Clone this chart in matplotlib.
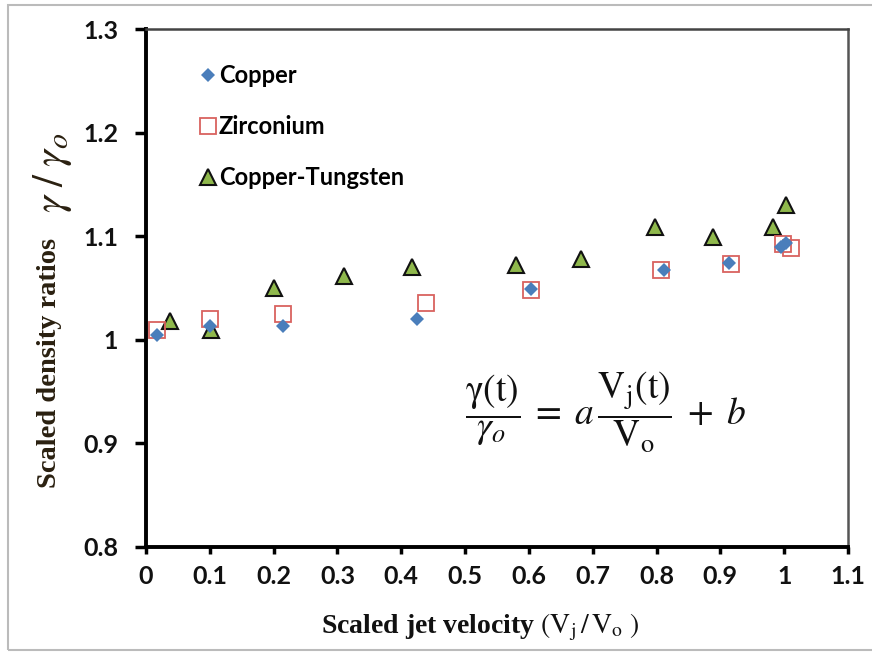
import matplotlib
matplotlib.use("Agg")
import matplotlib.pyplot as plt
from matplotlib.font_manager import FontProperties
from matplotlib.patches import Rectangle

# Scaled jet velocity (Vj/Vo) and scaled density ratio for each material
copper_x = [0.017, 0.100, 0.215, 0.424, 0.603, 0.811, 0.914, 0.995, 1.003]
copper_y = [1.005, 1.013, 1.013, 1.020, 1.049, 1.067, 1.074, 1.090, 1.093]

zirconium_x = [0.018, 0.101, 0.214, 0.438, 0.603, 0.807, 0.917, 0.998, 1.010]
zirconium_y = [1.009, 1.020, 1.025, 1.036, 1.048, 1.067, 1.073, 1.092, 1.089]

cu_w_x = [0.038, 0.102, 0.201, 0.310, 0.417, 0.580, 0.682, 0.798, 0.889, 0.982, 1.003]
cu_w_y = [1.018, 1.009, 1.050, 1.062, 1.070, 1.072, 1.078, 1.109, 1.099, 1.109, 1.130]

x_ticks = [0, 0.1, 0.2, 0.3, 0.4, 0.5, 0.6, 0.7, 0.8, 0.9, 1.0, 1.1]
x_tick_labels = ["0", "0.1", "0.2", "0.3", "0.4", "0.5", "0.6", "0.7", "0.8", "0.9", "1", "1.1"]
y_ticks = [0.8, 0.9, 1.0, 1.1, 1.2, 1.3]
y_tick_labels = ["0.8", "0.9", "1", "1.1", "1.2", "1.3"]

plt.rcParams["mathtext.fontset"] = "stix"

W, H = 872, 653
fig = plt.figure(figsize=(W / 100, H / 100), dpi=100)
ax = fig.add_axes([146 / W, 1 - 547 / H, (848 - 146) / W, (547 - 29) / H])

ax.plot(copper_x, copper_y, linestyle="none", marker="D", markersize=6.8,
        color="#4a7ebb", markeredgewidth=0, label="Copper", zorder=4)
ax.plot(zirconium_x, zirconium_y, linestyle="none", marker="s", markersize=11.5,
        markerfacecolor="none", markeredgecolor="#d9625f", markeredgewidth=1.3,
        label="Zirconium", zorder=3)
ax.plot(cu_w_x, cu_w_y, linestyle="none", marker="^", markersize=12,
        markerfacecolor="#8fb84c", markeredgecolor="#111111", markeredgewidth=1.5,
        label="Copper-Tungsten", zorder=2)

ax.set_xlim(0, 1.1)
ax.set_ylim(0.8, 1.3)
ax.set_xticks(x_ticks)
ax.set_xticklabels(x_tick_labels)
ax.set_yticks(y_ticks)
ax.set_yticklabels(y_tick_labels)

tick_font = FontProperties(family="Lato", weight="bold", size=18)
for lbl in ax.get_xticklabels() + ax.get_yticklabels():
    lbl.set_fontproperties(tick_font)
    lbl.set_color("#111111")

ax.tick_params(axis="x", direction="out", length=5, width=2.5, pad=8)
ax.tick_params(axis="y", direction="out", length=8, width=2.5, pad=12)

# thick black axes on the left and bottom, thinner grey frame elsewhere
ax.spines["left"].set_linewidth(2.8)
ax.spines["bottom"].set_linewidth(2.8)
ax.spines["left"].set_color("black")
ax.spines["bottom"].set_color("black")
ax.spines["top"].set_linewidth(1.8)
ax.spines["right"].set_linewidth(1.8)
ax.spines["top"].set_color("#444444")
ax.spines["right"].set_color("#555555")

leg = ax.legend(loc="upper left", bbox_to_anchor=(0.065, 0.951), frameon=False,
                handlelength=0.6, handletextpad=0.15, labelspacing=1.2,
                borderaxespad=0, prop=dict(family="Lato", weight="bold", size=17))

# axis titles
fig.text(480 / W, 1 - 627 / H,
         r"Scaled jet velocity $\left(\mathrm{V_j\,/\,V_o}\ \right)$",
         ha="center", va="center", family="Liberation Serif", weight="bold",
         size=20, color="#111111")
fig.text(50 / W, 1 - 488 / H, "Scaled density ratios",
         ha="center", va="bottom", rotation=90, family="Liberation Serif",
         weight="bold", size=20.5, color="#2a2010")
fig.text(52 / W, 1 - 132 / H, r"$\gamma\;/\;\gamma_o$",
         ha="center", va="top", rotation=90, size=31, color="#2a2010")

# fitted relation
ax.text(0.72, 0.930,
        r"$\dfrac{\mathrm{\gamma(t)}}{\gamma_o} \;=\; a\,\dfrac{\mathrm{V_j(t)}}{\mathrm{V_o}} \;+\; b$",
        ha="center", va="center", size=27, color="#111111")

# light border round the whole chart
fig.patches.append(Rectangle((8 / W, 1 - 650 / H), 1.0, (650 - 5) / H,
                             transform=fig.transFigure, fill=False,
                             edgecolor="#bbbbbb", linewidth=1.5))

fig.savefig("out.png", dpi=100)
